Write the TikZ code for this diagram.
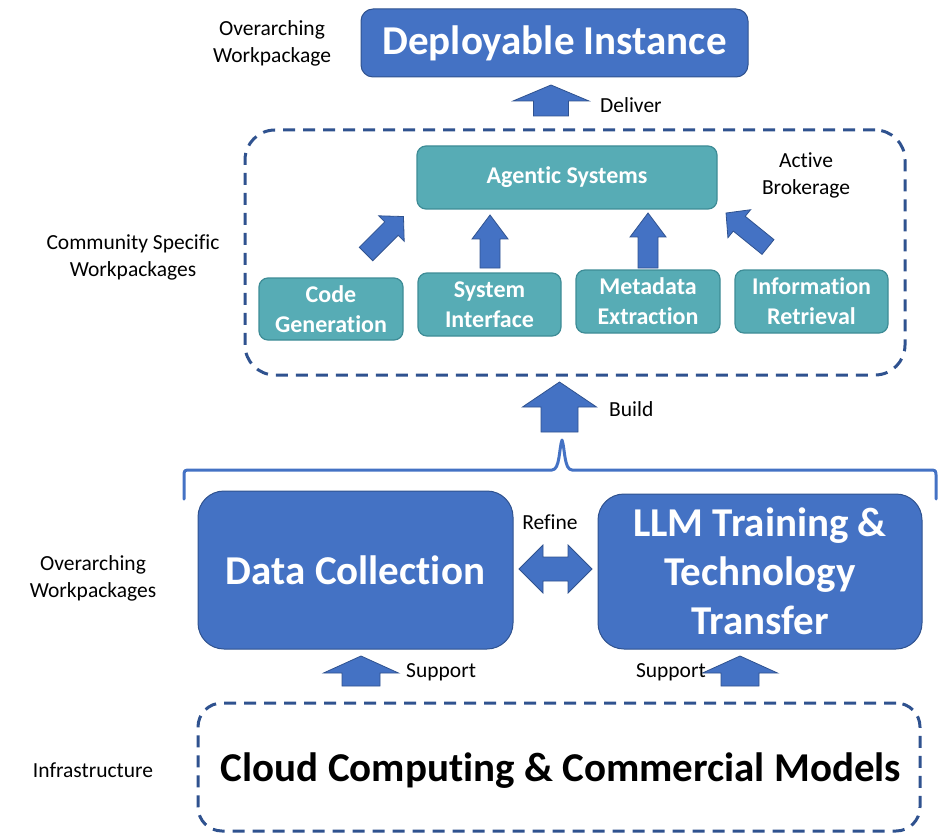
\documentclass[tikz,border=0pt]{standalone}
\usepackage{fontspec}
\setmainfont{Carlito}[Ligatures=NoCommon]
\definecolor{blueface}{HTML}{4472C4}
\definecolor{blueedge}{HTML}{2F528F}
\definecolor{tealface}{RGB}{87,172,181}
\definecolor{tealedge}{RGB}{62,140,150}

% block arrow: tail point, angle, length, shaft width, head width, head length
\newcommand{\blockarrow}[6]{%
	\begin{scope}[shift={#1},rotate=#2]
		\draw[arrowbody] (0,{-#4/2}) -- ({#3-#6},{-#4/2}) -- ({#3-#6},{-#5/2}) -- (#3,0)
			-- ({#3-#6},{#5/2}) -- ({#3-#6},{#4/2}) -- (0,{#4/2}) -- cycle;
	\end{scope}}

\begin{document}
\begin{tikzpicture}[x=1pt,y=-1pt,
	bluebox/.style={draw=blueedge,fill=blueface,line width=1pt,rounded corners=26pt,
		text=white,font=\fontsize{41}{49}\selectfont\bfseries,align=center,inner sep=0pt},
	tealbox/.style={draw=tealedge,fill=tealface,line width=1.2pt,rounded corners=9pt,
		text=white,font=\fontsize{24}{30}\selectfont\bfseries,align=center,inner sep=0pt},
	dashbox/.style={draw=blueedge,line width=3pt,dash pattern=on 12pt off 8pt,rounded corners=30pt},
	sidetext/.style={font=\fontsize{21.5}{27}\selectfont,align=center,inner sep=0pt},
	arrowbody/.style={fill=blueface,draw=blueedge,line width=0.8pt,line join=miter}]
	\useasboundingbox (0,0) rectangle (952,834);

	%TOP
	\node[bluebox,rounded corners=12pt,minimum width=387,minimum height=68] (deploy) at (554.5,43) {Deployable Instance};
	\node[sidetext] (deploylbl) at (272,43) {Overarching\\Workpackage};
	\blockarrow{(551,116)}{90}{31}{35}{76}{16}
	\node[sidetext,anchor=west] (deliver) at (600,105) {Deliver};

	%COMMUNITY SPECIFIC
	\node[dashbox,minimum width=660,minimum height=245] (community) at (575,252.5) {};
	\node[sidetext] (communitylbl) at (133,257) {Community Specific\\Workpackages};
	\node[tealbox,minimum width=300,minimum height=63] (agentic) at (567,177.5) {Agentic Systems};
	\node[sidetext] (brokerage) at (806,175) {Active\\Brokerage};
	\node[tealbox,minimum width=144,minimum height=62] (codegen) at (331,309) {Code\\Generation};
	\node[tealbox,minimum width=143,minimum height=63] (sysif) at (489.5,304.5) {System\\Interface};
	\node[tealbox,minimum width=144,minimum height=63] (metadata) at (648,301.5) {Metadata\\Extraction};
	\node[tealbox,minimum width=153,minimum height=63] (inforet) at (811.5,301.5) {Information\\Retrieval};
	\blockarrow{(366,254)}{45}{53}{19}{36}{17}
	\blockarrow{(490,268)}{90}{53}{20}{36}{24}
	\blockarrow{(648,268)}{90}{55}{20}{36}{24}
	\blockarrow{(768,247)}{141}{54}{19}{36}{17}

	%BUILD + BRACE
	\blockarrow{(559.5,432)}{90}{50}{37}{74}{25}
	\node[sidetext,anchor=west] (build) at (609,409) {Build};
	\draw[draw=blueface,line width=3pt,line cap=round,line join=round]
		(184,499) -- (184,477) .. controls (184,470) .. (191,470) -- (552,470)
		.. controls (560,470) and (559,448) .. (562,440)
		.. controls (565,448) and (564,470) .. (572,470) -- (929,470)
		.. controls (936,470) .. (936,477) -- (936,499);

	%OVERARCHING
	\node[bluebox,minimum width=315,minimum height=158] (datacoll) at (355.5,570) {Data Collection};
	\node[bluebox,minimum width=324,minimum height=155] (llm) at (760,571.5) {LLM Training \&\\Technology\\Transfer};
	\node[sidetext] (overlbl) at (93,578) {Overarching\\Workpackages};
	\draw[arrowbody] (519,569) -- (543,545) -- (543,557) -- (568,557) -- (568,545) -- (592,569)
		-- (568,593) -- (568,581) -- (543,581) -- (543,593) -- cycle;
	\node[sidetext] (refine) at (550,522) {Refine};
	\blockarrow{(361,686)}{90}{30}{38}{75}{17}
	\blockarrow{(740,686)}{90}{30}{38}{75}{17}
	\node[sidetext,anchor=west] (supportl) at (406,672) {Support};
	\node[sidetext,anchor=east] (supportr) at (706,672) {Support};

	%INFRASTRUCTURE
	\node[dashbox,rounded corners=24pt,minimum width=722,minimum height=128] (cloud) at (559,767) {};
	\node[font=\fontsize{41}{49}\selectfont\bfseries,inner sep=0pt] (cloudtxt) at (561,771) {Cloud Computing \& Commercial Models};
	\node[sidetext] (infralbl) at (93,770) {Infrastructure};
\end{tikzpicture}
\end{document}
